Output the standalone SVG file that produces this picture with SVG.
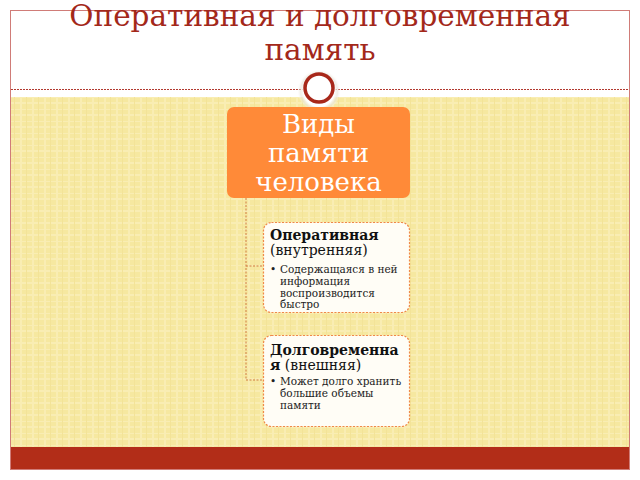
<svg xmlns="http://www.w3.org/2000/svg" width="640" height="480" viewBox="0 0 640 480">
<style>
.title{font-family:"DejaVu Serif",serif;font-size:29.5px;fill:#A3281A;text-anchor:middle}
.head{font-family:"DejaVu Serif",serif;font-size:26px;fill:#FFFFFF;text-anchor:middle}
.sub{font-family:"DejaVu Serif",serif;font-size:14px;fill:#111111}
.b{font-weight:bold}
.bul{font-family:"DejaVu Serif",serif;font-size:10.5px;fill:#222222}
.child{fill:#FFFDF6;stroke:#F0884A;stroke-width:1.2;stroke-dasharray:2 1.5}
.conn{fill:none;stroke:#D07A40;stroke-width:1;stroke-dasharray:2 1.5}
</style>
<defs>
<pattern id="tex" width="12" height="12" patternUnits="userSpaceOnUse">
<rect width="12" height="12" fill="#F6E8A0"/>
<rect x="0" y="1" width="12" height="1" fill="#F9EDB3"/>
<rect x="0" y="6" width="12" height="2" fill="#F9EDB3"/>
<rect x="2" y="0" width="1" height="12" fill="#F3E398"/>
<rect x="8" y="0" width="2" height="12" fill="#F9EDB3"/>
</pattern>
<radialGradient id="halo" cx="0.5" cy="0.55" r="0.5">
<stop offset="0.7" stop-color="#FFFFFF"/>
<stop offset="0.85" stop-color="#E8E4D8" stop-opacity="0.6"/>
<stop offset="1" stop-color="#FFFFFF" stop-opacity="0"/>
</radialGradient>
</defs>
<rect width="640" height="480" fill="#FFFFFF"/>
<rect x="10" y="97" width="619" height="350" fill="url(#tex)"/>
<rect x="10" y="447" width="619" height="22" fill="#B22D18"/>
<rect x="10.5" y="10.5" width="619" height="459" fill="none" stroke="#D07C78" stroke-width="1"/>
<line x1="11" y1="89.5" x2="629" y2="89.5" stroke="#B23A30" stroke-width="1" stroke-dasharray="2 1"/>
<g id="ornament">
<circle cx="319" cy="89" r="22" fill="url(#halo)"/>
<circle cx="319" cy="88" r="14" fill="#FFFFFF" stroke="#A8281A" stroke-width="3.5"/>
</g>
<g id="title">
<text class="title" x="320" y="26">Оперативная и долговременная</text>
<text class="title" x="320" y="60">память</text>
</g>
<g id="connectors">
<path class="conn" d="M246 198 V380 H263"/>
<path class="conn" d="M246 266 H263"/>
</g>
<g id="root">
<rect x="227" y="107" width="183" height="91" rx="7" fill="#FF8A38"/>
<text class="head" x="318.5" y="133">Виды</text>
<text class="head" x="318.5" y="162">памяти</text>
<text class="head" x="318.5" y="191">человека</text>
</g>
<g id="operative">
<rect class="child" x="263.5" y="222.5" width="146" height="90" rx="8"/>
<text class="sub b" x="270" y="240">Оперативная</text>
<text class="sub" x="270" y="255">(внутренняя)</text>
<text class="bul" x="270" y="273">•</text>
<text class="bul" x="280" y="273">Содержащаяся в ней</text>
<text class="bul" x="280" y="285">информация</text>
<text class="bul" x="280" y="297">воспроизводится</text>
<text class="bul" x="280" y="308">быстро</text>
</g>
<g id="longterm">
<rect class="child" x="263.5" y="335.5" width="146" height="91" rx="8"/>
<text class="sub b" x="270" y="355">Долговременна</text>
<text class="sub" x="270" y="370"><tspan class="b">я</tspan> (внешняя)</text>
<text class="bul" x="270" y="385">•</text>
<text class="bul" x="280" y="385">Может долго хранить</text>
<text class="bul" x="280" y="397">большие объемы</text>
<text class="bul" x="280" y="409">памяти</text>
</g>
</svg>
